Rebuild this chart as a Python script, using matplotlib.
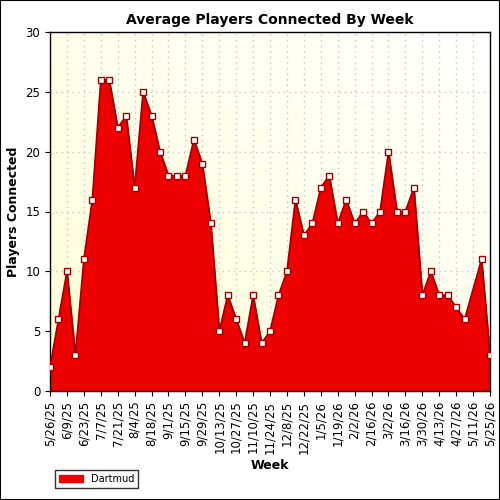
import matplotlib
matplotlib.use("Agg")
import matplotlib.pyplot as plt
import numpy as np
import datetime as dt

start = dt.date(2025, 5, 26)
values = [2,6,10,3,11,16,26,26,22,23,17,25,23,20,18,18,18,21,19,14,5,8,6,4,8,4,5,8,10,16,13,14,17,18,14,16,14,15,14,15,20,15,15,17,8,10,8,8,7,6,None,11,3]
weeks = list(range(len(values)))
tick_labels = [f"{d.month}/{d.day}/{d.year%100}" for d in (start + dt.timedelta(weeks=w) for w in weeks[::2])]

xs = [w for w, v in zip(weeks, values) if v is not None]
ys = [v for v in values if v is not None]

fig = plt.figure(figsize=(5, 5), dpi=100)
ax = fig.add_axes([0.1, 0.218, 0.88, 0.718])
grad = np.linspace(0, 1, 256)
X, Y = np.meshgrid(grad, grad)
G = np.clip((X + Y) / 2, 0, 1)
c0 = np.array([1.0, 1.0, 0.84]); c1 = np.array([1.0, 1.0, 1.0])
img = c0[None, None, :] * (1 - G[..., None]) + c1[None, None, :] * G[..., None]
ax.imshow(img, extent=[0, 52, 0, 30], origin="lower", aspect="auto", zorder=0)
ax.grid(True, color="#c8c8c8", linestyle=(0, (1, 3)), linewidth=1, zorder=1)
ax.fill_between(xs, ys, 0, color="#ee0000", zorder=2, label="Dartmud")
ax.plot(xs, ys, color="#a00000", linewidth=1.2, zorder=3)
ax.plot(xs, ys, linestyle="none", marker="s", markersize=5, markerfacecolor="white",
        markeredgecolor="#a00000", markeredgewidth=1, zorder=4)
ax.set_xlim(0, 52)
ax.set_ylim(0, 30)
ax.set_xticks(weeks[::2])
ax.set_xticklabels(tick_labels, rotation=90, fontsize=8.5)
ax.tick_params(axis="y", labelsize=8.5)
ax.set_yticks(range(0, 31, 5))
ax.set_xlabel("Week", fontsize=9, fontweight="bold")
ax.set_ylabel("Players Connected", fontsize=9, fontweight="bold")
ax.set_title("Average Players Connected By Week", fontsize=10, fontweight="bold")
for s in ax.spines.values():
    s.set_linewidth(1)
fig.legend(loc="lower left", bbox_to_anchor=(0.1, 0.015), fontsize=7, frameon=True,
           fancybox=False, edgecolor="black", handlelength=2.5)
fig.patches.append(plt.Rectangle((0, 0), 1, 1, transform=fig.transFigure, fill=False,
                                 edgecolor="black", linewidth=1.5))
fig.savefig("out.png", dpi=100)
